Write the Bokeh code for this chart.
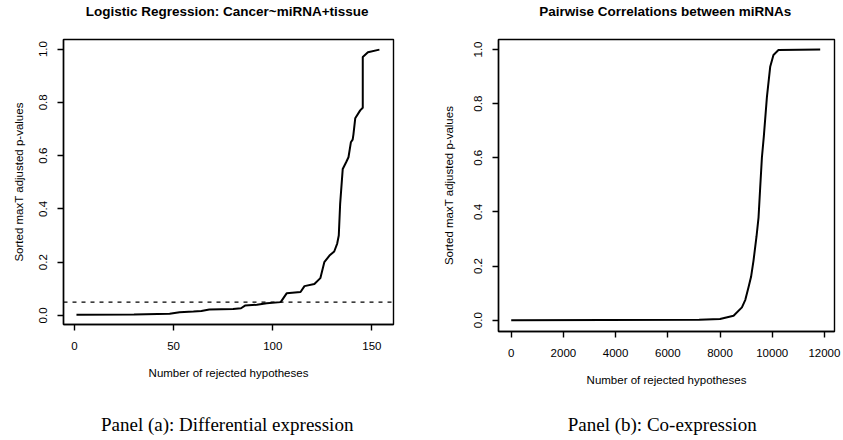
from bokeh.plotting import figure
from bokeh.layouts import row, column
from bokeh.models import Range1d, FixedTicker, Span, NumeralTickFormatter
from bokeh.core.properties import value
from bokeh.embed import file_html
from bokeh.resources import INLINE

# ---- Panel (a): Differential expression ----
title_a = "Logistic Regression: Cancer~miRNA+tissue"
caption_a = "Panel (a): Differential expression"
rank_a = [1, 30, 48, 53, 60, 64, 68, 80, 84, 86, 92, 97, 104, 107, 114, 116, 121,
          124, 126, 128.6, 131, 132.5, 133.3, 134, 135.3, 137, 138.2, 139.4, 140.3,
          140.7, 141.6, 144.1, 145.4, 145.4, 148, 153.8]
padj_a = [0.003, 0.004, 0.006, 0.012, 0.015, 0.017, 0.022, 0.024, 0.027, 0.037,
          0.040, 0.046, 0.050, 0.083, 0.088, 0.110, 0.118, 0.140, 0.200, 0.225,
          0.240, 0.270, 0.300, 0.420, 0.550, 0.575, 0.594, 0.650, 0.660, 0.680,
          0.740, 0.770, 0.780, 0.970, 0.988, 0.998]
alpha_level = 0.05
xticks_a = [0, 50, 100, 150]

# ---- Panel (b): Co-expression ----
title_b = "Pairwise Correlations between miRNAs"
caption_b = "Panel (b): Co-expression"
rank_b = [0, 7200, 8000, 8520, 8840, 8970, 9090, 9190, 9284, 9400, 9477, 9540,
          9605, 9680, 9797, 9923, 10048, 10240, 11839]
padj_b = [0.0, 0.001, 0.004, 0.016, 0.047, 0.075, 0.121, 0.160, 0.220, 0.310,
          0.380, 0.490, 0.600, 0.680, 0.824, 0.936, 0.980, 0.998, 1.0]
xticks_b = [0, 2000, 4000, 6000, 8000, 10000, 12000]

yticks = [0.0, 0.2, 0.4, 0.6, 0.8, 1.0]
x_label = "Number of rejected hypotheses"
y_label = "Sorted maxT adjusted p-values"

SANS = "Liberation Sans"
SERIF = "Liberation Serif"
PAGE_W = 843


def text_strip(height, xs, y, texts, font, size, style):
    """A blank strip (no axes) that carries titles or captions as text."""
    s = figure(width=PAGE_W, height=height, x_range=Range1d(0, PAGE_W),
               y_range=Range1d(0, height), output_backend="svg",
               toolbar_location=None, x_axis_type=None, y_axis_type=None,
               min_border_left=0, min_border_right=0, min_border_top=0,
               min_border_bottom=0)
    s.outline_line_color = None
    s.grid.visible = False
    s.background_fill_color = "white"
    s.border_fill_color = "white"
    s.text(x=xs, y=[y] * len(xs), text=texts, text_font=value(font),
           text_font_size=size, text_font_style=style, text_color="black",
           text_align="center", text_baseline="alphabetic")
    return s


def make_panel(width, height, xr, yr, borders, xs, ys, xticks, ylab_standoff,
               threshold=None):
    bl, br, bt, bb = borders
    p = figure(width=width, height=height, x_range=Range1d(*xr), y_range=Range1d(*yr),
               output_backend="svg", toolbar_location=None,
               min_border_left=bl, min_border_right=br,
               min_border_top=bt, min_border_bottom=bb)
    p.background_fill_color = "white"
    p.border_fill_color = "white"
    p.outline_line_color = "black"
    p.outline_line_width = 1.4
    p.outline_line_alpha = 1.0
    p.grid.visible = False

    for ax in (p.xaxis[0], p.yaxis[0]):
        ax.axis_line_color = "black"
        ax.axis_line_width = 1.4
        ax.major_tick_line_color = "black"
        ax.major_tick_line_width = 1.4
        ax.major_tick_out = 6
        ax.major_tick_in = 0
        ax.minor_tick_line_color = None
        ax.major_label_text_font = SANS
        ax.major_label_text_font_size = "11.5px"
        ax.major_label_text_color = "black"
        ax.axis_label_text_font = SANS
        ax.axis_label_text_font_size = "11.5px"
        ax.axis_label_text_font_style = "normal"
        ax.axis_label_text_color = "black"

    p.xaxis.ticker = FixedTicker(ticks=xticks)
    p.xaxis.formatter = NumeralTickFormatter(format="0")
    p.xaxis.major_label_standoff = 11
    p.xaxis.axis_label = x_label
    p.xaxis.axis_label_standoff = 14

    p.yaxis.ticker = FixedTicker(ticks=yticks)
    p.yaxis.formatter = NumeralTickFormatter(format="0.0")
    p.yaxis.major_label_orientation = "vertical"
    p.yaxis.major_label_standoff = 10
    p.yaxis.axis_label = y_label
    p.yaxis.axis_label_standoff = ylab_standoff

    if threshold is not None:
        p.add_layout(Span(location=threshold, dimension="width",
                          line_color="black", line_width=1.2, line_dash="4 5"))

    p.line(xs, ys, line_color="black", line_width=2)
    return p


header = text_strip(36, [226.7, 664.7], 25, [title_a, title_b], SANS, "13.5px", "bold")
pa = make_panel(421, 357, (-5.54, 160.9), (-0.034, 1.036), (63, 28, 3, 69),
                rank_a, padj_a, xticks_a, 12, threshold=alpha_level)
pb = make_panel(422, 364, (-487, 12387), (-0.042, 1.037), (77, 9, 3, 69),
                rank_b, padj_b, xticks_b, 17)
footer = text_strip(40, [226.7, 661.7], 16, [caption_a, caption_b], SERIF, "19px", "normal")

layout = column(header, row(pa, pb, spacing=0), footer, spacing=0)
open("out.html", "w").write(file_html(layout, INLINE))
